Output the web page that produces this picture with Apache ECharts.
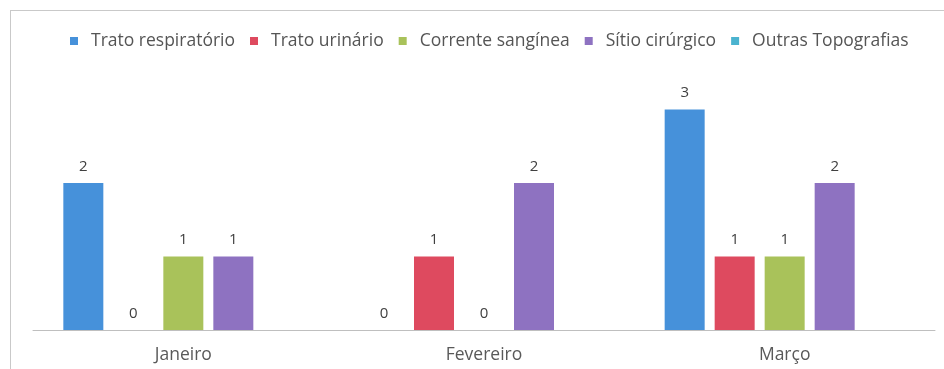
<!DOCTYPE html>
<html>
<head>
<meta charset="utf-8">
<script src="https://cdn.jsdelivr.net/npm/echarts@6/dist/echarts.min.js"></script>
<style>
html,body{margin:0;padding:0;background:#fff;}
#chart{width:944px;height:369px;position:absolute;left:0;top:0;}
#frame{position:absolute;left:10px;top:10px;width:940px;height:365px;border-top:1px solid #c9c9c9;border-left:1px solid #c9c9c9;pointer-events:none;}
</style>
</head>
<body>
<div id="chart"></div>
<div id="frame"></div>
<script>
const categories = ['Janeiro', 'Fevereiro', 'Março'];
const seriesNames = ['Trato respiratório', 'Trato urinário', 'Corrente sangínea', 'Sítio cirúrgico', 'Outras Topografias'];
const tratoRespiratorio = [2, 0, 3];
const tratoUrinario = [0, 1, 1];
const correnteSanginea = [1, 0, 1];
const sitioCirurgico = [1, 2, 2];
const outrasTopografias = [null, null, null];
const colors = ['#4691da', '#de4a5f', '#a9c25a', '#8e72c1', '#4bb3cf'];

const values = [tratoRespiratorio, tratoUrinario, correnteSanginea, sitioCirurgico, outrasTopografias];
const chart = echarts.init(document.getElementById('chart'));
const font = 'Open Sans';
chart.setOption({
  animation: false,
  color: colors,
  legend: {
    top: 27,
    left: 65,
    itemWidth: 8,
    itemHeight: 8,
    itemGap: 15,
    icon: 'rect',
    textStyle: {fontFamily: font, fontSize: 17.5, color: '#555555', padding: [0, 0, 0, 8]},
    data: seriesNames
  },
  grid: {left: 33, right: 9, top: 36, bottom: 39},
  xAxis: {
    type: 'category',
    data: categories,
    axisLine: {lineStyle: {color: '#bfbfbf', width: 1}},
    axisTick: {show: false},
    axisLabel: {fontFamily: font, fontSize: 17.5, color: '#595959', margin: 16}
  },
  yAxis: {
    type: 'value', min: 0, max: 4, show: false,
    splitLine: {show: false}
  },
  series: seriesNames.map((name, i) => ({
    name: name,
    type: 'bar',
    data: values[i],
    barWidth: 40,
    barGap: '25%',
    barCategoryGap: '20%',
    label: {show: true, position: 'top', distance: 9, fontFamily: font, fontSize: 15, color: '#404040'}
  }))
});
</script>
</body>
</html>
